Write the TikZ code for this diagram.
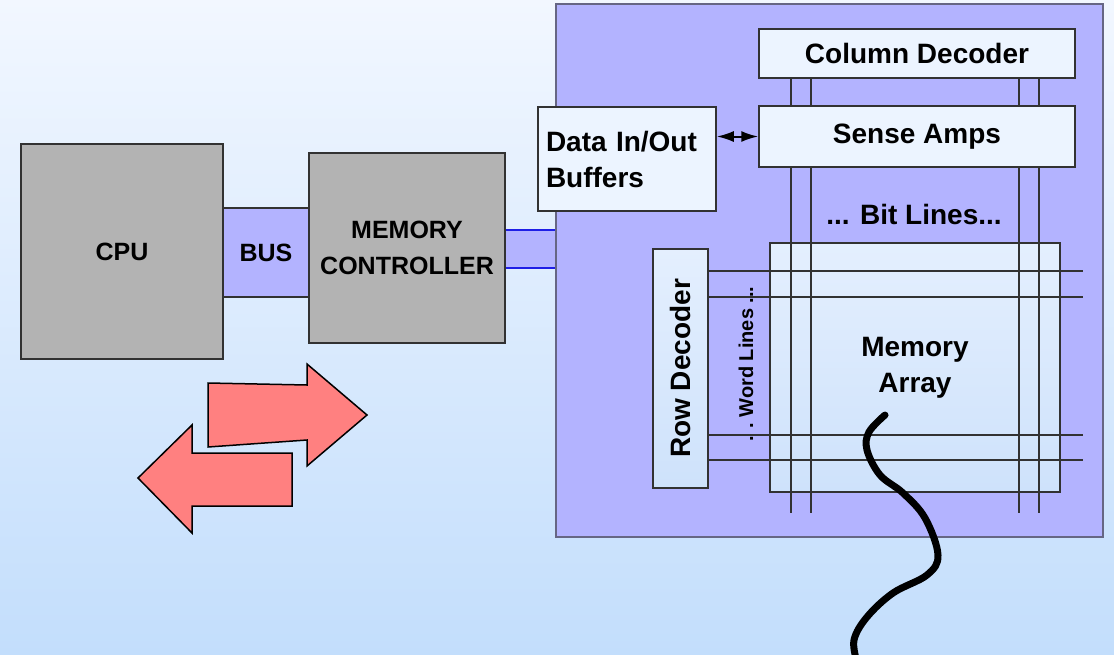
\documentclass[tikz,border=0pt]{standalone}
\usepackage{fontspec}
\setmainfont{Liberation Sans}
\usetikzlibrary{arrows.meta}
\definecolor{bgtop}{RGB}{242,247,255}
\definecolor{bgbot}{RGB}{195,222,252}
\definecolor{panelblue}{RGB}{179,179,255}
\definecolor{chipgray}{RGB}{179,179,179}
\definecolor{cellfill}{RGB}{236,244,255}
\definecolor{arraytop}{RGB}{228,239,254}
\definecolor{arraybot}{RGB}{206,226,251}
\definecolor{arrowred}{RGB}{255,128,128}
\definecolor{edge}{RGB}{50,50,50}
\definecolor{buslink}{RGB}{30,30,230}
\tikzset{
  chip/.style={draw=edge,line width=1.5pt,fill=chipgray,align=center,inner sep=0pt,
    font=\fontsize{25}{36}\selectfont\bfseries},
  block/.style={draw=edge,line width=1.5pt,fill=cellfill,inner sep=0pt,
    font=\fontsize{28}{36}\selectfont\bfseries},
  wire/.style={draw=edge,line width=2pt},
  fatarrow/.style={draw=black,line width=1.5pt,fill=arrowred,line join=miter},
}
\begin{document}
\begin{tikzpicture}[x=1pt,y=-1pt]
  \shade[top color=bgtop,bottom color=bgbot] (0,0) rectangle (1114,654);
  \useasboundingbox (0,0) rectangle (1114,654);

  % DRAM chip
  \node[draw=edge!60!panelblue,line width=1.5pt,fill=panelblue,
    minimum width=547pt,minimum height=533pt] (panel) at (829.5,270.5) {};
  \node[block,top color=arraytop,bottom color=arraybot,align=center,
    minimum width=290pt,minimum height=249pt] (array) at (915,367.5) {Memory\\Array};
  \foreach \x in {791,811,1019,1039}
    \draw[wire] (\x,78) -- (\x,513);
  \node[block,minimum width=316pt,minimum height=49pt] (coldec) at (917,53.5) {Column Decoder};
  \node[block,minimum width=316pt,minimum height=61pt] (sense) at (917,136.5) {Sense Amps};
  \node[block,top color=arraytop,bottom color=arraybot,rotate=90,
    minimum width=239pt,minimum height=55pt] (rowdec) at (680.5,368.5) {Row Decoder};
  \foreach \y in {271,297,435,460}
    \draw[wire] (708,\y) -- (1083,\y);
  \node[font=\fontsize{20}{24}\selectfont\bfseries,rotate=90] (wordlbl) at (746,364) {. .\ Word Lines ...};
  \node[font=\fontsize{28}{34}\selectfont\bfseries] (bitlbl) at (914,214) {... Bit Lines...};
  \node[block,align=left,text width=162pt,minimum width=178pt,minimum height=104pt]
    (buffers) at (627,159) {Data In/Out\\Buffers};
  \draw[line width=2pt,{Latex[length=17pt,width=11pt]}-{Latex[length=17pt,width=11pt]}]
    (buffers.east |- sense.west) -- (sense.west);

  % CPU side
  \node[chip,fill=panelblue,minimum width=86pt,minimum height=89pt] (bus) at (266,252.5) {\raisebox{-5pt}{BUS}};
  \node[chip,minimum width=202pt,minimum height=215pt] (cpu) at (122,251.5) {\raisebox{-4pt}{CPU}};
  \node[chip,minimum width=196pt,minimum height=190pt] (mc) at (407,248) {MEMORY\\CONTROLLER};
  \coordinate (linktop) at (0,230);
  \coordinate (linkbot) at (0,268);
  \fill[panelblue] (mc.east |- linktop) rectangle (panel.west |- linkbot);
  \draw[buslink,line width=1.5pt] (mc.east |- linktop) -- (panel.west |- linktop);
  \draw[buslink,line width=1.5pt] (mc.east |- linkbot) -- (panel.west |- linkbot);

  % request / reply
  \draw[fatarrow] (208,383) -- (307,385) -- (307,364) -- (367,415) -- (307,466) -- (307,440) -- (208,447) -- cycle;
  \draw[fatarrow] (292,453) -- (192,453) -- (192,425) -- (138,478) -- (192,533) -- (192,506) -- (292,506) -- cycle;

  % the scribble
  \draw[line width=7pt,line cap=round,line join=round] plot[smooth,tension=0.6] coordinates
    {(885,415) (869,432) (867,450) (880,475) (903,493) (925,518) (938,555) (927,575) (893,593) (867,617) (854,640) (857,662)};
\end{tikzpicture}
\end{document}
